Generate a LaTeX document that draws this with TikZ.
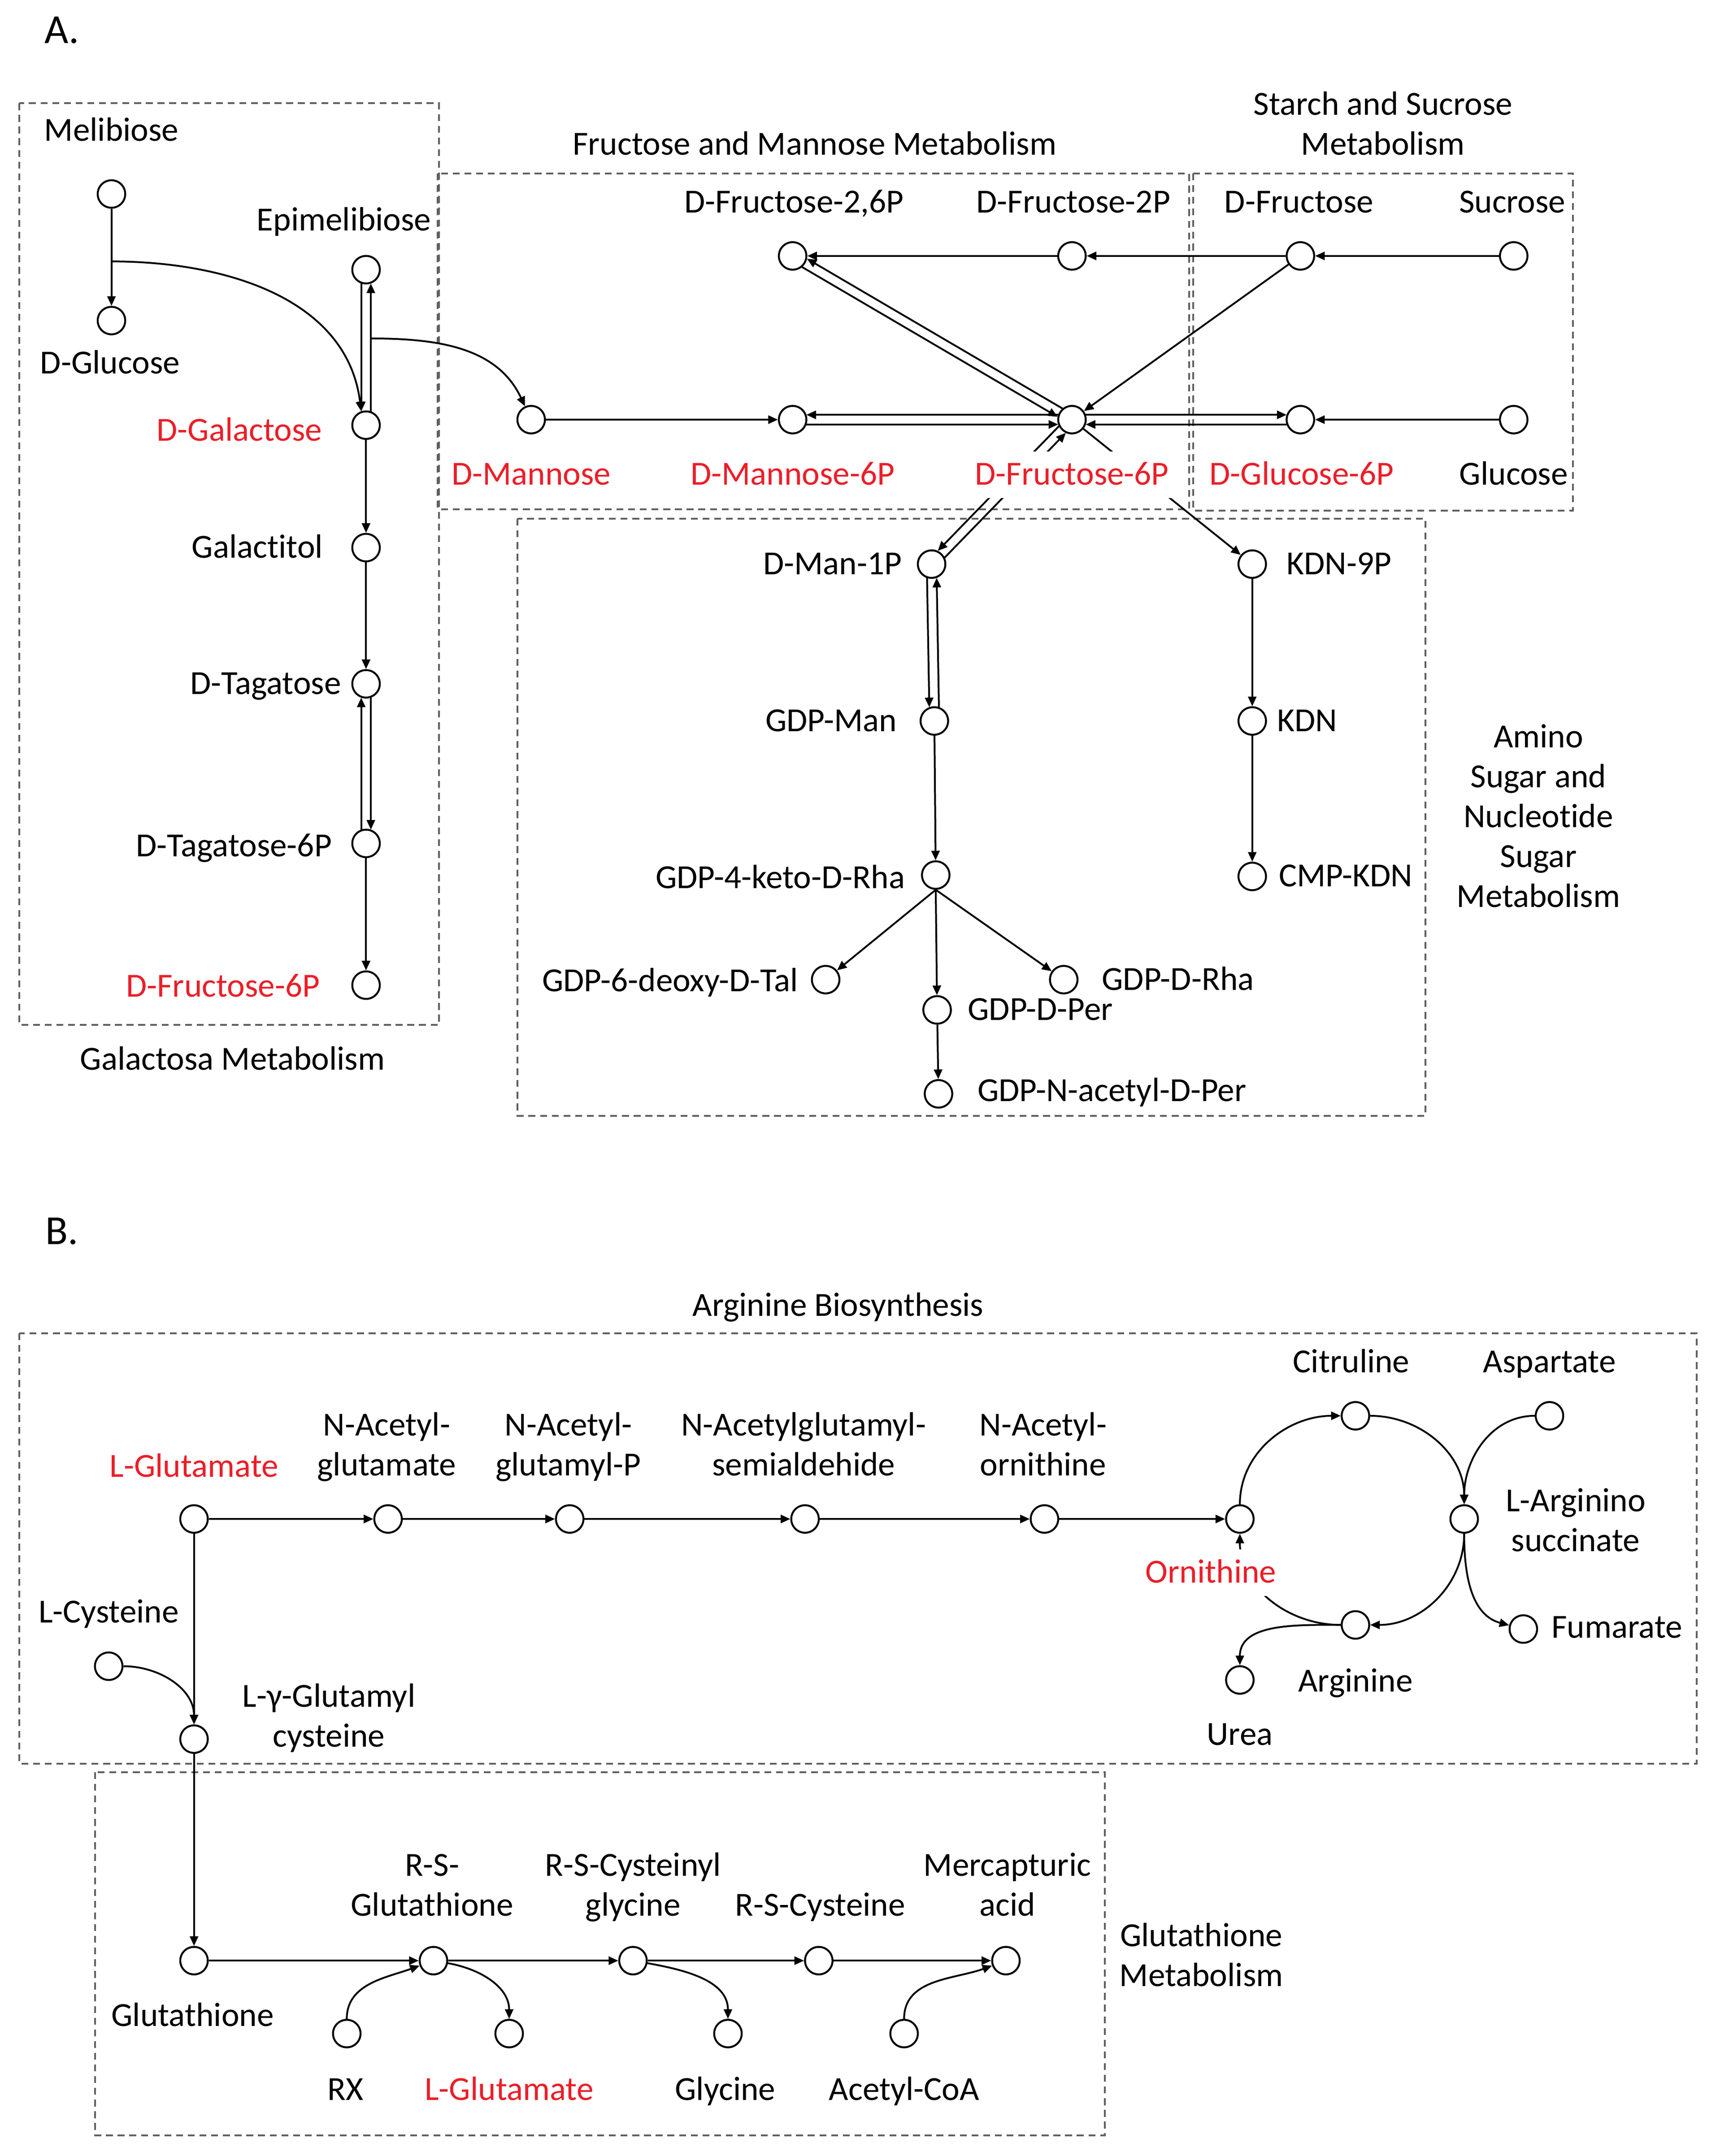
\documentclass[tikz,border=0pt]{standalone}
\usepackage{fontspec}
\setmainfont{Carlito}[Ligatures=NoCommon]
\usetikzlibrary{arrows.meta,calc}
\definecolor{hl}{RGB}{235,30,40}
\definecolor{boxc}{RGB}{95,95,95}
\tikzset{
  met/.style={circle,draw,line width=1.4pt,minimum size=20pt,inner sep=0pt},
  lab/.style={font=\fontsize{24.5}{29}\selectfont,inner sep=1pt,text height=18.5pt,text depth=3.5pt,align=center},
  redlab/.style={lab,text=hl},
  headlab/.style={font=\fontsize{30}{36}\selectfont,inner sep=1pt},
  arr/.style={line width=1.3pt,-{Triangle[length=7pt,width=6pt]}},
  pathbox/.style={draw=boxc,line width=1.3pt,dash pattern=on 5pt off 3.5pt},
  cover/.style={fill=white,inner xsep=3pt,inner ysep=6pt},
}
\newcommand{\rxnpair}[4]{%
  \draw[arr,shorten <=10pt,shorten >=10pt] ($(#1)!3.5pt!#3:(#2)$) -- ($(#2)!3.5pt!#4:(#1)$);
  \draw[arr,shorten <=10pt,shorten >=10pt] ($(#2)!3.5pt!#3:(#1)$) -- ($(#1)!3.5pt!#4:(#2)$);}
\begin{document}
\begin{tikzpicture}[x=1pt,y=-1pt]
\useasboundingbox[fill=white] (0,0) rectangle (1247,1567);

% ---------- boxes ----------
\draw[pathbox] (14,75) rectangle (319,745);
\draw[pathbox] (318,126) rectangle (864,370);
\draw[pathbox] (867,126) rectangle (1143,371);
\draw[pathbox] (376,377) rectangle (1036,811);
\draw[pathbox] (14,969) rectangle (1233,1282);
\draw[pathbox] (69,1288) rectangle (803,1552);

% ---------- panel A nodes ----------
\node[met] (mel) at (81,141) {};
\node[met] (glc) at (81,233) {};
\node[met] (epi) at (266,196) {};
\node[met] (gal) at (266,309) {};
\node[met] (galol) at (266,398) {};
\node[met] (tag) at (266,497) {};
\node[met] (tag6) at (266,613) {};
\node[met] (f6a) at (266,716) {};
\node[met] (f26) at (576,186) {};
\node[met] (f2) at (779,186) {};
\node[met] (fru) at (945,186) {};
\node[met] (suc) at (1100,186) {};
\node[met] (man) at (386,305) {};
\node[met] (m6p) at (576,305) {};
\node[met] (f6p) at (779,305) {};
\node[met] (g6p) at (945,305) {};
\node[met] (glu) at (1100,305) {};
\node[met] (m1p) at (677,410) {};
\node[met] (gman) at (679,524) {};
\node[met] (gkr) at (680,636) {};
\node[met] (gtal) at (600,712) {};
\node[met] (gper) at (681,734) {};
\node[met] (grha) at (773,712) {};
\node[met] (gnac) at (682,795) {};
\node[met] (k9p) at (910,410) {};
\node[met] (kdn) at (910,524) {};
\node[met] (cmp) at (910,637) {};

% ---------- panel B nodes ----------
\node[met] (lglu) at (141,1104) {};
\node[met] (nag) at (282,1104) {};
\node[met] (nagp) at (414,1104) {};
\node[met] (nags) at (585,1104) {};
\node[met] (nao) at (759,1104) {};
\node[met] (orn) at (901,1104) {};
\node[met] (cit) at (985,1029) {};
\node[met] (asp) at (1126,1029) {};
\node[met] (las) at (1064,1104) {};
\node[met] (fum) at (1107,1184) {};
\node[met] (arg) at (985,1181) {};
\node[met] (urea) at (901,1221) {};
\node[met] (lcys) at (79,1211) {};
\node[met] (ggc) at (141,1264) {};
\node[met] (gsh) at (141,1425) {};
\node[met] (rsg) at (315,1425) {};
\node[met] (rscg) at (460,1425) {};
\node[met] (rsc) at (595,1425) {};
\node[met] (merc) at (731,1425) {};
\node[met] (rx) at (252,1478) {};
\node[met] (lglu2) at (370,1478) {};
\node[met] (gly) at (529,1478) {};
\node[met] (acoa) at (657,1478) {};

% ---------- panel A connectors ----------
\draw[arr] (mel) -- (glc);
\coordinate (mb) at (81,190);
\draw[arr] (mb) to[out=0,in=97] ($(gal)+(-3.5,-10)$);
\rxnpair{epi}{gal}{-90}{90}
\coordinate (eb) at (269.5,246);
\draw[arr] (eb) to[out=0,in=115] (man);
\draw[arr] (gal) -- (galol);
\draw[arr] (galol) -- (tag);
\rxnpair{tag}{tag6}{90}{-90}
\draw[arr] (tag6) -- (f6a);
\draw[arr] (suc) -- (fru);
\draw[arr] (fru) -- (f2);
\draw[arr] (f2) -- (f26);
\rxnpair{f26}{f6p}{-90}{90}
\draw[arr] (fru) -- (f6p);
\draw[arr] (man) -- (m6p);
\rxnpair{m6p}{f6p}{-90}{90}
\rxnpair{f6p}{g6p}{90}{-90}
\draw[arr] (glu) -- (g6p);
\rxnpair{f6p}{m1p}{-90}{90}
\draw[arr] (f6p) -- (k9p);
\rxnpair{m1p}{gman}{-90}{90}
\draw[arr] (gman) -- (gkr);
\draw[arr] (gkr.south) -- (gtal);
\draw[arr] (gkr.south) -- (gper);
\draw[arr] (gkr.south) -- (grha);
\draw[arr] (gper) -- (gnac);
\draw[arr] (k9p) -- (kdn);
\draw[arr] (kdn) -- (cmp);

% ---------- panel B connectors ----------
\draw[arr] (lglu) -- (nag);
\draw[arr] (nag) -- (nagp);
\draw[arr] (nagp) -- (nags);
\draw[arr] (nags) -- (nao);
\draw[arr] (nao) -- (orn);
\draw[arr] (orn) to[out=90,in=180] (cit);
\draw[arr] (cit) to[out=0,in=90] (las);
\draw[arr] (asp) to[out=180,in=90] (las);
\draw[arr] (las) to[out=270,in=0] (arg);
\draw[arr] (las) to[out=270,in=165] (fum);
\draw[arr] (arg) to[out=180,in=270] (orn);
\draw[arr] (arg) to[out=180,in=90] (urea);
\draw[arr] (lglu) -- (ggc);
\draw[arr] (lcys) to[out=0,in=90] (ggc);
\draw[arr] (ggc) -- (gsh);
\draw[arr] (gsh) -- (rsg);
\draw[arr] (rsg) -- (rscg);
\draw[arr] (rscg) -- (rsc);
\draw[arr] (rsc) -- (merc);
\draw[arr] (rx) to[out=90,in=200] (rsg);
\draw[arr] (rsg) to[out=-10,in=90] (lglu2);
\draw[arr] (rscg) to[out=-10,in=90] (gly);
\draw[arr] (acoa) to[out=90,in=200] (merc);

% ---------- panel A labels (multi-line ones placed by their last line) ----------
\node[headlab] (ta) at (45,22) {A.};
\node[lab] (tmel) at (81,95) {Melibiose};
\node[lab] (tepi) at (250,160) {Epimelibiose};
\node[lab] (tglc) at (80,264) {D-Glucose};
\node[redlab] (tgal) at (174,313) {D-Galactose};
\node[lab] (tgalol) at (187,398) {Galactitol};
\node[lab] (ttag) at (193,497) {D-Tagatose};
\node[lab] (ttag6) at (170,615) {D-Tagatose-6P};
\node[redlab] (tf6a) at (162,717) {D-Fructose-6P};
\node[lab] (tgalm) at (169,770) {Galactosa Metabolism};
\node[lab] (tfmm) at (592,105) {Fructose and Mannose Metabolism};
\node[lab] (tssm) at (1005,105) {Starch and Sucrose\\Metabolism};
\node[lab] (tf26) at (577,147) {D-Fructose-2,6P};
\node[lab] (tf2) at (780,147) {D-Fructose-2P};
\node[lab] (tfru) at (944,147) {D-Fructose};
\node[lab] (tsuc) at (1099,147) {Sucrose};
\node[redlab] (tman) at (386,345) {D-Mannose};
\node[redlab] (tm6p) at (576,345) {D-Mannose-6P};
\node[redlab,cover] (tf6p) at (779,345) {D-Fructose-6P};
\node[redlab] (tg6p) at (946,345) {D-Glucose-6P};
\node[lab] (tglu) at (1100,345) {Glucose};
\node[lab] (tm1p) at (605,410) {D-Man-1P};
\node[lab] (tk9p) at (973,410) {KDN-9P};
\node[lab] (tgman) at (604,524) {GDP-Man};
\node[lab] (tkdn) at (950,524) {KDN};
\node[lab] (tgkr) at (567,638) {GDP-4-keto-D-Rha};
\node[lab] (tcmp) at (978,637) {CMP-KDN};
\node[lab] (tgtal) at (487,713) {GDP-6-deoxy-D-Tal};
\node[lab] (tgrha) at (856,712) {GDP-D-Rha};
\node[lab] (tgper) at (756,734) {GDP-D-Per};
\node[lab] (tgnac) at (808,793) {GDP-N-acetyl-D-Per};
\node[lab] (tamino) at (1118,652) {Amino\\Sugar and\\Nucleotide\\Sugar\\Metabolism};

% ---------- panel B labels ----------
\node[headlab] (tb) at (45,895) {B.};
\node[lab] (targb) at (609,949) {Arginine Biosynthesis};
\node[redlab] (tlglu) at (141,1066) {L-Glutamate};
\node[lab] (tnag) at (281,1065) {N-Acetyl-\\glutamate};
\node[lab] (tnagp) at (413,1065) {N-Acetyl-\\glutamyl-P};
\node[lab] (tnags) at (584,1065) {N-Acetylglutamyl-\\semialdehide};
\node[lab] (tnao) at (758,1065) {N-Acetyl-\\ornithine};
\node[lab] (tcit) at (982,990) {Citruline};
\node[lab] (tasp) at (1126,990) {Aspartate};
\node[lab] (tlas) at (1145,1120) {L-Arginino\\succinate};
\node[redlab,cover] (torn) at (880,1143) {Ornithine};
\node[lab] (tfum) at (1175,1183) {Fumarate};
\node[lab] (targ) at (985,1222) {Arginine};
\node[lab] (turea) at (901,1261) {Urea};
\node[lab] (tlcys) at (79,1172) {L-Cysteine};
\node[lab] (tggc) at (239,1262) {L-γ-Glutamyl\\cysteine};
\node[lab] (tgshm) at (873,1436) {Glutathione\\Metabolism};
\node[lab] (trsg) at (314,1385) {R-S-\\Glutathione};
\node[lab] (trscg) at (460,1385) {R-S-Cysteinyl\\glycine};
\node[lab] (trsc) at (596,1385) {R-S-Cysteine};
\node[lab] (tmerc) at (732,1385) {Mercapturic\\acid};
\node[lab] (tgsh) at (140,1465) {Glutathione};
\node[lab] (trx) at (251,1519) {RX};
\node[redlab] (tlglu2) at (370,1519) {L-Glutamate};
\node[lab] (tgly) at (527,1519) {Glycine};
\node[lab] (tacoa) at (657,1519) {Acetyl-CoA};
\end{tikzpicture}
\end{document}
